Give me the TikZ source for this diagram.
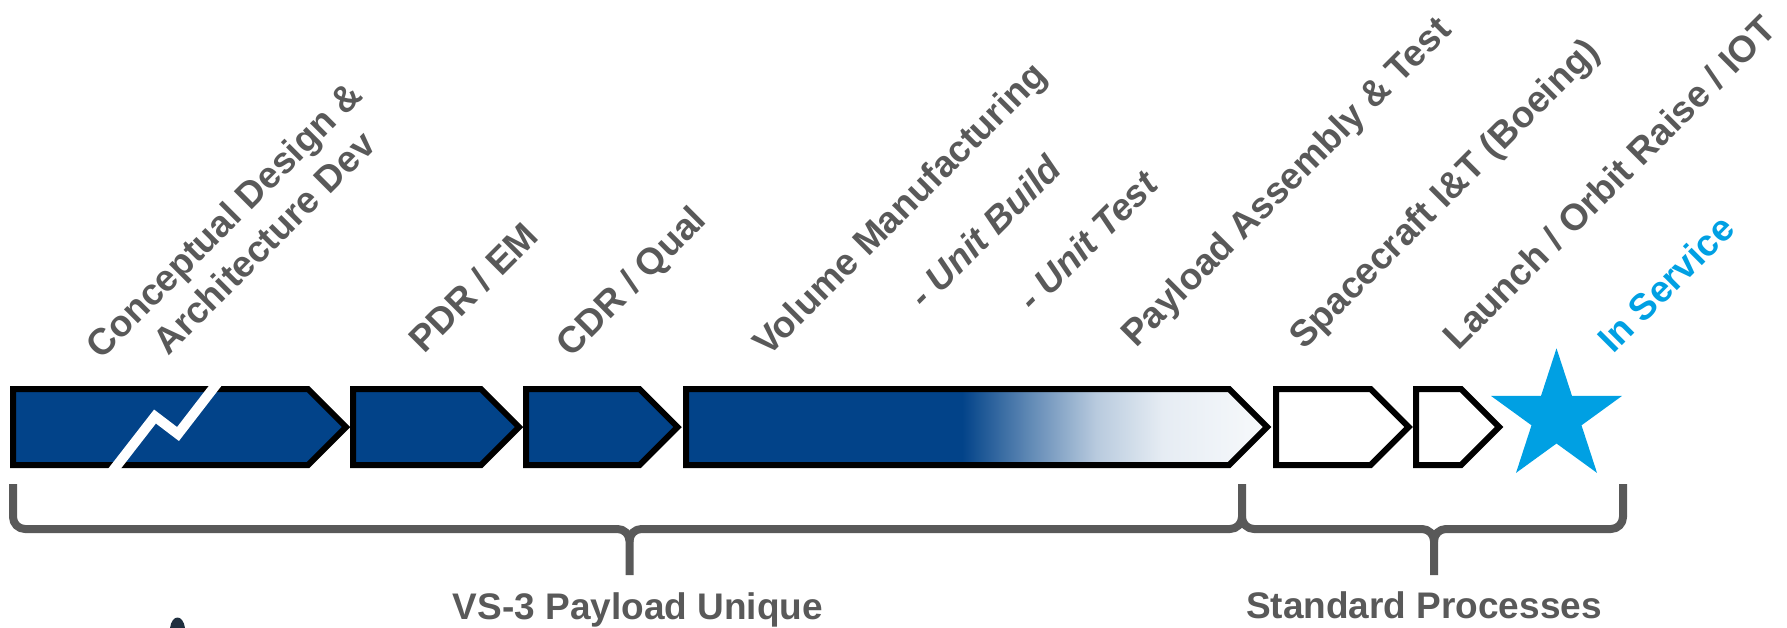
\documentclass[tikz,border=0pt]{standalone}
\usepackage{fontspec}
\setmainfont{Liberation Sans}
\definecolor{vsblue}{RGB}{2,67,137}
\definecolor{txtgray}{RGB}{89,89,89}
\definecolor{skyblue}{RGB}{0,160,227}
\definecolor{darkmark}{RGB}{31,47,63}
\pgfdeclarehorizontalshading{fadeblue}{100bp}{color(0bp)=(vsblue); color(48.75bp)=(vsblue); color(54.5bp)=(vsblue!63!white); color(60.3bp)=(vsblue!28!white); color(66bp)=(vsblue!10!white); color(75bp)=(vsblue!3!white); color(100bp)=(vsblue!3!white)}
\newcommand\mychev[4]{\draw[#4] (#1,389) -- (#2,389) -- (#3,427) -- (#2,465) -- (#1,465) -- cycle;}
\tikzset{
  boxline/.style={draw=black, line width=3pt, line join=miter},
  bluebox/.style={boxline, fill=vsblue},
  fadebox/.style={boxline, shading=fadeblue},
  whitebox/.style={boxline, fill=white},
  lab/.style={text=txtgray, font=\fontsize{18.5}{22}\selectfont\bfseries, rotate=45, anchor=base west, inner sep=0pt},
  sublab/.style={lab, font=\fontsize{18.5}{22}\selectfont\bfseries\itshape},
  brace/.style={draw=txtgray, line width=4pt, line cap=butt, line join=round},
  grouplab/.style={text=txtgray, font=\fontsize{18.5}{22}\selectfont\bfseries, anchor=base, inner sep=0pt}
}
\begin{document}
\begin{tikzpicture}[x=0.5pt,y=-0.5pt]
\useasboundingbox (0,0) rectangle (1787,627);
% chevrons
\mychev{13}{308}{346}{bluebox}
\draw[white, line width=5pt, line join=miter] (108.8,476) -- (155,416.5) -- (178,434) -- (221.2,378);
\mychev{353}{481}{519}{bluebox}
\mychev{526}{639.5}{677.5}{bluebox}
\mychev{686}{1229}{1267}{fadebox}
\mychev{1276}{1370.5}{1408.5}{whitebox}
\mychev{1416}{1461}{1499}{whitebox}
% star
\coordinate (starc) at (1556.5,417.2);
\fill[skyblue] (1556.5,348.3) -- (1541.0,395.9) -- (1491.0,395.9) -- (1531.5,425.3) -- (1516.0,472.9) -- (1556.5,443.5) -- (1597.0,472.9) -- (1581.5,425.3) -- (1622.0,395.9) -- (1572.0,395.9) -- cycle;
% braces
\draw[brace] (13,484) -- (13,517) to[out=-90,in=180] (25,529) -- (617.5,529) to[out=0,in=90] (629.5,541) -- (629.5,575);
\draw[brace] (629.5,541) to[out=90,in=180] (641.5,529) -- (1230,529) to[out=0,in=-90] (1242,517) -- (1242,484);
\draw[brace] (1242,517) to[out=-90,in=180] (1254,529) -- (1422,529) to[out=0,in=90] (1434,541) -- (1434,575);
\draw[brace] (1434,541) to[out=90,in=180] (1446,529) -- (1611,529) to[out=0,in=-90] (1623,517) -- (1623,484);
% group labels
\node[grouplab] (g1) at (638,619.5) {VS-3 Payload Unique};
\node[grouplab] (g2) at (1424,618.5) {Standard Processes};
% phase labels
\node[lab] (l1a) at (101,361) {Conceptual Design \&};
\node[lab] (l1b) at (168,357) {Architecture Dev};
\node[lab] (l2) at (424,355) {PDR / EM};
\node[lab] (l3) at (571,359) {CDR / Qual};
\node[lab] (l4) at (768,358) {Volume Manufacturing};
\node[sublab] (l4a) at (924,311) {- Unit Build};
\node[sublab] (l4b) at (1033,314) {- Unit Test};
\node[lab] (l5) at (1136,349) {Payload Assembly \& Test};
\node[lab] (l6) at (1304,351) {Spacecraft I\&T (Boeing)};
\node[lab] (l7) at (1458,352) {Launch / Orbit Raise / IOT};
\node[lab, text=skyblue] (l8) at (1613,355) {In Service};
% partial mark at bottom left
\fill[darkmark] (170,628) .. controls (172,614) and (183,614) .. (185,628) -- cycle;
\end{tikzpicture}
\end{document}
